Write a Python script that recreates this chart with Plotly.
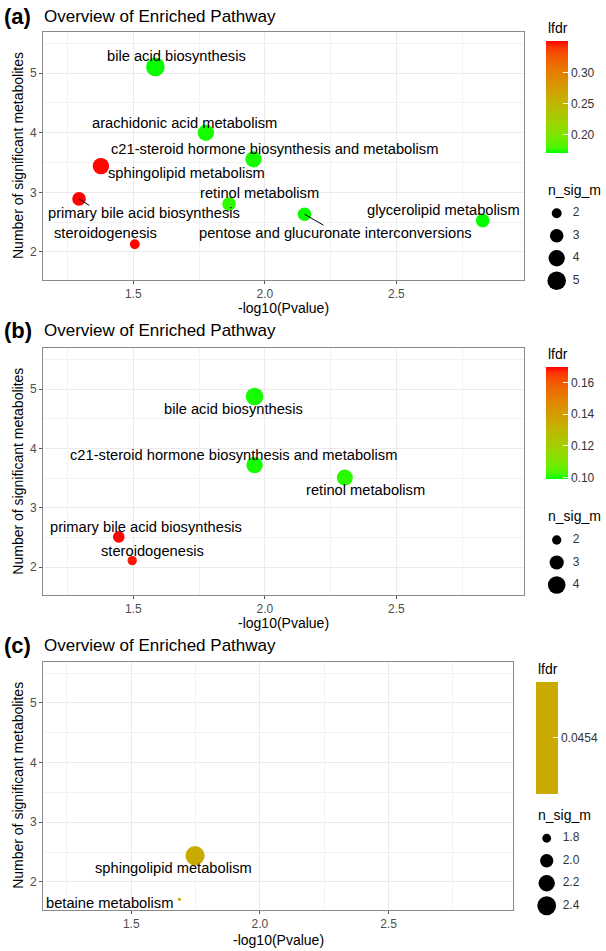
import numpy as np
import plotly.graph_objects as go

# ---------------- data ----------------
a_pathway = ["bile acid biosynthesis", "arachidonic acid metabolism",
             "c21-steroid hormone biosynthesis and metabolism", "sphingolipid metabolism",
             "primary bile acid biosynthesis", "retinol metabolism",
             "pentose and glucuronate interconversions", "glycerolipid metabolism",
             "steroidogenesis"]
a_x = [1.584, 1.776, 1.957, 1.377, 1.294, 1.864, 2.151, 2.828, 1.506]
a_y = [5.105, 4.00, 3.554, 3.44, 2.89, 2.806, 2.633, 2.526, 2.13]
a_n = [5, 4, 4, 4, 3, 3, 3, 3, 2]
a_lfdr = [0.170, 0.172, 0.172, 0.349, 0.350, 0.175, 0.170, 0.169, 0.350]

b_pathway = ["bile acid biosynthesis", "c21-steroid hormone biosynthesis and metabolism",
             "retinol metabolism", "primary bile acid biosynthesis", "steroidogenesis"]
b_x = [1.961, 1.961, 2.304, 1.445, 1.496]
b_y = [4.878, 3.72, 3.51, 2.51, 2.11]
b_n = [4, 3.6, 3.5, 2.4, 2.0]
b_lfdr = [0.100, 0.100, 0.101, 0.169, 0.168]

c_pathway = ["sphingolipid metabolism", "betaine metabolism"]
c_x = [1.748, 1.6875]
c_y = [2.44, 1.71]
c_n = [2.44, 1.71]
c_lfdr = [0.0454, 0.0454]

a_size_breaks = [2, 3, 4, 5]
b_size_breaks = [2, 3, 4]
c_size_breaks = [1.8, 2.0, 2.2, 2.4]
a_lfdr_ticks = [0.20, 0.25, 0.30]
b_lfdr_ticks = [0.10, 0.12, 0.14, 0.16]
c_lfdr_ticks = [0.0454]

# ---------------- layout helpers (positions / styles) ----------------
W, H = 606, 951
def px(v): return v / W
def py(v): return 1 - v / H

# Lab interpolation (ggplot-like gradient green -> red)
M = np.array([[0.4124, 0.3576, 0.1805], [0.2126, 0.7152, 0.0722], [0.0193, 0.1192, 0.9505]])
Minv = np.linalg.inv(M)
WHITE = np.array([0.95047, 1.0, 1.08883])
def hex2rgb(h): return np.array([int(h[i:i + 2], 16) for i in (1, 3, 5)]) / 255.0
def to_lin(c): return np.where(c <= 0.04045, c / 12.92, ((c + 0.055) / 1.055) ** 2.4)
def from_lin(c):
    c = np.clip(c, 0, 1)
    return np.where(c <= 0.0031308, 12.92 * c, 1.055 * c ** (1 / 2.4) - 0.055)
def f(t): return np.where(t > 0.008856, np.cbrt(t), 7.787 * t + 16 / 116)
def finv(t): return np.where(t > 0.206893, t ** 3, (t - 16 / 116) / 7.787)
def rgb2lab(rgb):
    xyz = M @ to_lin(rgb) / WHITE
    fx, fy, fz = f(xyz)
    return np.array([116 * fy - 16, 500 * (fx - fy), 200 * (fy - fz)])
def lab2hex(lab):
    L, a, b = lab
    fy = (L + 16) / 116
    xyz = np.array([finv(fy + a / 500), finv(fy), finv(fy - b / 200)]) * WHITE
    rgb = from_lin(Minv @ xyz)
    r, g, bb = (np.round(rgb * 255)).astype(int)
    return "#%02x%02x%02x" % (r, g, bb)
LOW, HIGH = rgb2lab(hex2rgb("#00ff00")), rgb2lab(hex2rgb("#ff0000"))
grad = [[t, lab2hex(LOW + (HIGH - LOW) * t)] for t in np.linspace(0, 1, 21)]
mid = lab2hex(LOW + (HIGH - LOW) * 0.5)

def size_px(v, lo, hi, k):
    r = np.clip((np.array(v, dtype=float) - lo) / (hi - lo), 0, 1)
    return k * (1 + 5 * np.sqrt(r))

FONT = "Liberation Sans, Arial, sans-serif"
GRID = "#EBEBEB"
BORDER = "#8a8a8a"
LABEL_SIZE = 14.7

panels = [
    dict(tag="(a)", ax="", px_box=(43, 524, 32, 280), xtitle_y=308,
         title_y=16, path=a_pathway, x=a_x, y=a_y, n=a_n, lfdr=a_lfdr,
         scale=(1.3, 5.0, 3.1), breaks=a_size_breaks, blab=[str(b) for b in a_size_breaks],
         cax="coloraxis", cmin=0.169, cmax=0.350, cscale=grad,
         cticks=a_lfdr_ticks, ctext=["0.20", "0.25", "0.30"],
         cbar=(546, 41.7, 153.3), ctitle_y=28, leg_title_y=190, leg_top=202, leg_x=556.7,
         lab_xy=[(1.666, 5.285), (1.693, 4.16), (2.035, 3.727), (1.702, 3.32),
                 (1.539, 2.65), (1.978, 2.985), (2.267, 2.315), (2.679, 2.705), (1.394, 2.315)],
         segs=[((1.294, 2.89), (1.333, 2.78)), ((2.151, 2.633), (2.223, 2.449))]),
    dict(tag="(b)", ax="2", px_box=(43, 524, 348.3, 595), xtitle_y=623,
         title_y=330, path=b_pathway, x=b_x, y=b_y, n=b_n, lfdr=b_lfdr,
         scale=(1.55, 4.36, 3.1), breaks=b_size_breaks, blab=[str(b) for b in b_size_breaks],
         cax="coloraxis2", cmin=0.099, cmax=0.1695, cscale=grad,
         cticks=b_lfdr_ticks, ctext=["0.10", "0.12", "0.14", "0.16"],
         cbar=(546, 367.3, 479.3), ctitle_y=353.5, leg_title_y=515.7, leg_top=528.75, leg_x=556.7,
         lab_xy=[(1.881, 4.665), (1.881, 3.888), (2.382, 3.30), (1.549, 2.68), (1.575, 2.28)],
         segs=[]),
    dict(tag="(c)", ax="3", px_box=(43, 513.3, 661.7, 910), xtitle_y=940,
         title_y=645, path=c_pathway, x=c_x, y=c_y, n=c_n, lfdr=c_lfdr,
         scale=(1.71, 2.44, 3.2), breaks=c_size_breaks, blab=["1.8", "2.0", "2.2", "2.4"],
         cax="coloraxis3", cmin=0.0454 - 0.001, cmax=0.0454 + 0.001, cscale=[[0, mid], [1, mid]],
         cticks=c_lfdr_ticks, ctext=["0.0454"],
         cbar=(535.7, 681.7, 794), ctitle_y=669.3, leg_title_y=815, leg_top=827, leg_x=546.7,
         lab_xy=[(1.666, 2.23), (1.417, 1.65)],
         segs=[]),
]

fig = go.Figure()
annotations, shapes = [], []
layout = dict(width=W, height=H, margin=dict(l=0, r=0, t=0, b=0, autoexpand=False),
              paper_bgcolor="white", plot_bgcolor="white", showlegend=False,
              font=dict(family=FONT, color="#1a1a1a"))

for i, p in enumerate(panels):
    xa, ya = "x" + p["ax"], "y" + p["ax"]
    L, R, T, B = p["px_box"]
    lo, hi, k = p["scale"]
    fig.add_trace(go.Scatter(
        x=p["x"], y=p["y"], mode="markers", xaxis=xa, yaxis=ya, hoverinfo="text",
        text=p["path"],
        marker=dict(color=p["lfdr"], coloraxis=p["cax"], size=size_px(p["n"], lo, hi, k),
                    line=dict(width=0), opacity=1)))
    axkey = "xaxis" + p["ax"]
    aykey = "yaxis" + p["ax"]
    common = dict(showgrid=True, gridcolor=GRID, gridwidth=1, zeroline=False,
                  showline=True, mirror=True, linecolor=BORDER, linewidth=1,
                  ticks="outside", ticklen=3, tickcolor="#555", tickwidth=1,
                  tickfont=dict(size=12, color="#4D4D4D"), fixedrange=True)
    layout[axkey] = dict(domain=[px(L), px(R)], range=[1.157, 2.985], anchor=ya,
                         tickvals=[1.5, 2.0, 2.5], ticktext=["1.5", "2.0", "2.5"],
                         minor=dict(tickvals=[1.25, 1.75, 2.25, 2.75], showgrid=True,
                                    gridcolor="#F2F2F2", gridwidth=0.6, ticks=""),
                         **common)
    layout[aykey] = dict(domain=[py(B), py(T)], range=[1.53, 5.69], anchor=xa,
                         tickvals=[2, 3, 4, 5],
                         minor=dict(tickvals=[2.5, 3.5, 4.5, 5.5], showgrid=True,
                                    gridcolor="#F2F2F2", gridwidth=0.6, ticks=""),
                         **common)
    # colour axis
    cx, ct, cb = p["cbar"]
    layout[p["cax"]] = dict(
        cmin=p["cmin"], cmax=p["cmax"], colorscale=p["cscale"],
        colorbar=dict(thickness=22, thicknessmode="pixels", len=cb - ct, lenmode="pixels",
                      x=px(cx), xanchor="left", y=py((ct + cb) / 2), yanchor="middle",
                      xpad=0, ypad=0, outlinewidth=0, ticks="inside", ticklen=5,
                      tickcolor="white", tickwidth=1, tickvals=p["cticks"], ticktext=p["ctext"],
                      tickfont=dict(size=12, color="#333"), title=dict(text="")))
    # titles
    annotations.append(dict(text="<b>%s</b>" % p["tag"], x=px(2), y=py(p["title_y"]),
                            xref="paper", yref="paper", xanchor="left", yanchor="middle",
                            showarrow=False, font=dict(size=22, color="black")))
    annotations.append(dict(text="Overview of Enriched Pathway", x=px(42), y=py(p["title_y"]),
                            xref="paper", yref="paper", xanchor="left", yanchor="middle",
                            showarrow=False, font=dict(size=17, color="black")))
    annotations.append(dict(text="-log10(Pvalue)", x=px((L + R) / 2), y=py(p["xtitle_y"]),
                            xref="paper", yref="paper", xanchor="center", yanchor="middle",
                            showarrow=False, font=dict(size=14, color="black")))
    annotations.append(dict(text="Number of significant metabolites", x=px(18),
                            y=py((T + B) / 2), xref="paper", yref="paper", textangle=-90,
                            xanchor="center", yanchor="middle", showarrow=False,
                            font=dict(size=14, color="black")))
    annotations.append(dict(text="lfdr", x=px(cx), y=py(p["ctitle_y"]), xref="paper",
                            yref="paper", xanchor="left", yanchor="middle", showarrow=False,
                            font=dict(size=14, color="black")))
    annotations.append(dict(text="n_sig_m", x=px(cx), y=py(p["leg_title_y"]), xref="paper",
                            yref="paper", xanchor="left", yanchor="middle", showarrow=False,
                            font=dict(size=14, color="black")))
    # point labels
    for name, (lx, ly) in zip(p["path"], p["lab_xy"]):
        annotations.append(dict(text=name, x=lx, y=ly, xref=xa, yref=ya, showarrow=False,
                                xanchor="center", yanchor="middle",
                                font=dict(size=LABEL_SIZE, color="black")))
    for (x0, y0), (x1, y1) in p["segs"]:
        shapes.append(dict(type="line", x0=x0, y0=y0, x1=x1, y1=y1, xref=xa, yref=ya,
                           line=dict(color="black", width=1)))
    # size legend on an auxiliary axis (10 px per unit horizontally)
    nb = len(p["breaks"])
    lx_id = str(4 + i)
    top = p["leg_top"]
    bot = top + 22.5 * nb
    fig.add_trace(go.Scatter(
        x=[0] * nb, y=list(range(nb)), mode="markers", xaxis="x" + lx_id, yaxis="y" + lx_id,
        hoverinfo="skip", cliponaxis=False,
        marker=dict(color="black", size=size_px(p["breaks"], lo, hi, k), line=dict(width=0),
                    opacity=1)))
    fig.add_trace(go.Scatter(
        x=[1.6] * nb, y=list(range(nb)), mode="text", text=p["blab"],
        textposition="middle right", cliponaxis=False,
        xaxis="x" + lx_id, yaxis="y" + lx_id, hoverinfo="skip",
        textfont=dict(size=12, color="#333")))
    lgx0 = p["leg_x"] - 10
    layout["xaxis" + lx_id] = dict(domain=[px(lgx0), px(lgx0 + 40)], range=[-1, 3],
                                   visible=False, anchor="y" + lx_id, fixedrange=True)
    layout["yaxis" + lx_id] = dict(domain=[py(bot), py(top)], range=[nb - 0.5, -0.5],
                                   visible=False, anchor="x" + lx_id, fixedrange=True)

layout["annotations"] = annotations
layout["shapes"] = shapes
fig.update_layout(**layout)
fig.write_html("out.html", config={"displayModeBar": False},
               post_script="document.body.style.margin='0';document.body.style.padding='0';"
                           "document.body.style.overflow='hidden';")
